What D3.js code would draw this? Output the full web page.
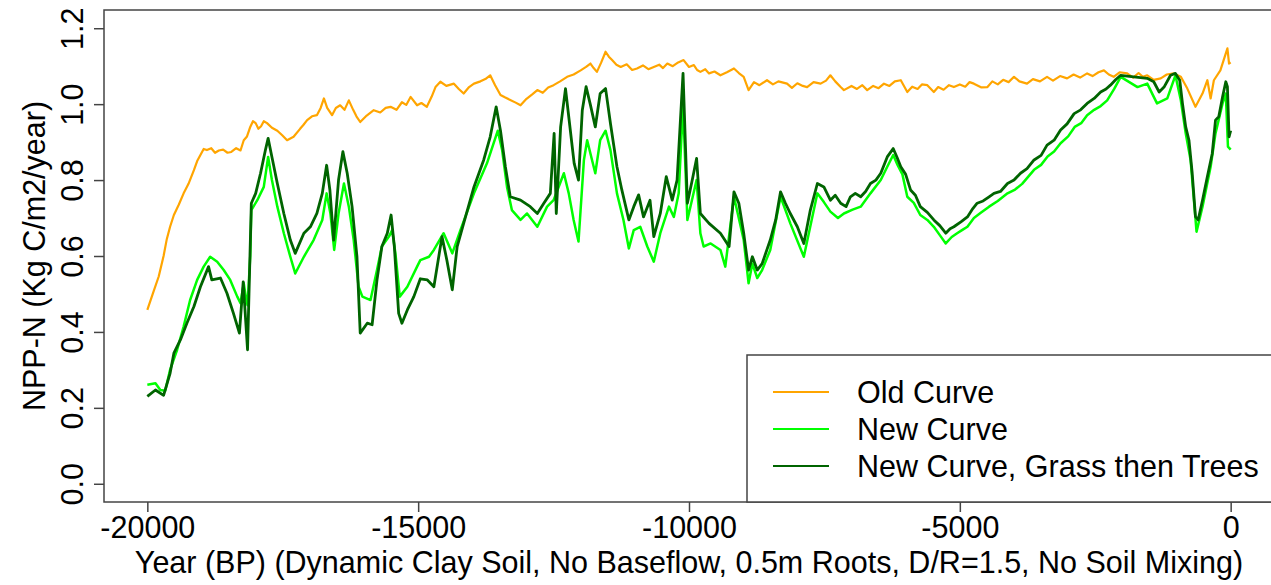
<!DOCTYPE html>
<html>
<head>
<meta charset="utf-8">
<script src="https://cdnjs.cloudflare.com/ajax/libs/d3/7.8.5/d3.min.js"></script>
<style>
  body { margin: 0; background: #fff; }
  text { font-family: "Liberation Sans", Arial, sans-serif; fill: #000; }
</style>
</head>
<body>
<div class="plot-item"></div>
<script>
// values
var oldYears = [
  -20000,-19900,-19790,-19700,-19640,-19580,-19510,-19420,-19330,-19240,
  -19140,-19080,-19020,-18960,-18900,-18820,-18750,-18680,-18600,-18520,
  -18450,-18360,-18280,-18220,-18160,-18100,-18050,-18000,-17950,-17900,
  -17850,-17790,-17700,-17600,-17510,-17420,-17300,-17180,-17120,-17050,
  -16960,-16870,-16800,-16740,-16680,-16590,-16520,-16440,-16360,-16280,
  -16200,-16140,-16070,-15950,-15820,-15700,-15600,-15510,-15400,-15300,
  -15220,-15140,-15020,-14940,-14840,-14750,-14680,-14590,-14480,-14340,
  -14250,-14160,-14060,-13970,-13850,-13760,-13670,-13580,-13480,-13400,
  -13300,-13200,-13110,-13000,-12900,-12800,-12700,-12600,-12500,-12380,
  -12250,-12130,-12000,-11900,-11820,-11760,-11700,-11620,-11540,-11480,
  -11420,-11340,-11260,-11150,-11050,-10960,-10850,-10750,-10650,-10550,
  -10480,-10400,-10300,-10200,-10100,-10000,-9910,-9850,-9790,-9700,
  -9630,-9530,-9420,-9300,-9170,-9080,-8990,-8900,-8800,-8700,
  -8560,-8450,-8350,-8190,-8100,-8000,-7900,-7820,-7700,-7570,
  -7470,-7390,-7300,-7200,-7140,-7000,-6900,-6800,-6710,-6600,
  -6500,-6400,-6300,-6200,-6090,-5970,-5880,-5780,-5700,-5600,
  -5480,-5400,-5300,-5200,-5110,-5000,-4900,-4820,-4740,-4600,
  -4490,-4400,-4300,-4200,-4100,-4000,-3900,-3760,-3650,-3520,
  -3390,-3280,-3150,-3020,-2900,-2780,-2650,-2550,-2440,-2340,
  -2250,-2160,-2050,-1910,-1800,-1700,-1620,-1540,-1420,-1290,
  -1180,-1050,-920,-800,-650,-520,-430,-370,-310,-190,
  -60,-30,0];
var oldNpp = [
  0.458,0.500,0.546,0.600,0.645,0.677,0.708,0.735,0.765,0.790,
  0.826,0.850,0.866,0.882,0.879,0.884,0.872,0.878,0.880,0.872,
  0.874,0.884,0.878,0.905,0.915,0.940,0.955,0.950,0.935,0.942,
  0.955,0.950,0.938,0.930,0.918,0.905,0.914,0.935,0.945,0.958,
  0.968,0.971,0.990,1.015,0.990,0.971,0.990,0.997,0.985,1.010,
  0.985,0.968,0.953,0.970,0.984,0.978,0.990,0.993,0.985,1.005,
  0.998,1.019,0.997,1.003,0.993,1.020,1.045,1.059,1.048,1.054,
  1.040,1.028,1.045,1.054,1.060,1.066,1.076,1.050,1.024,1.018,
  1.011,1.004,0.997,1.014,1.025,1.037,1.030,1.044,1.050,1.060,
  1.072,1.078,1.089,1.098,1.107,1.095,1.085,1.110,1.138,1.125,
  1.116,1.104,1.098,1.105,1.090,1.094,1.102,1.092,1.098,1.104,
  1.095,1.107,1.100,1.110,1.116,1.098,1.103,1.090,1.085,1.092,
  1.081,1.086,1.076,1.084,1.094,1.082,1.072,1.037,1.058,1.050,
  1.063,1.052,1.060,1.054,1.043,1.055,1.048,1.045,1.058,1.054,
  1.062,1.076,1.060,1.045,1.037,1.048,1.040,1.050,1.037,1.048,
  1.042,1.054,1.048,1.060,1.063,1.032,1.046,1.040,1.052,1.050,
  1.032,1.045,1.038,1.050,1.045,1.052,1.046,1.058,1.054,1.044,
  1.045,1.060,1.052,1.064,1.058,1.072,1.060,1.054,1.066,1.060,
  1.072,1.062,1.074,1.068,1.078,1.070,1.081,1.074,1.084,1.089,
  1.078,1.072,1.084,1.081,1.070,1.082,1.072,1.076,1.064,1.068,
  1.078,1.081,1.072,1.041,0.993,1.028,1.063,1.015,1.063,1.089,
  1.147,1.107,1.110];

var newYears = [
  -20000,-19850,-19760,-19670,-19580,-19450,-19330,-19210,-19080,-18960,
  -18840,-18710,-18590,-18470,-18340,-18280,-18220,-18180,-18150,-18100,
  -18080,-17970,-17850,-17770,-17700,-17600,-17480,-17360,-17270,-17110,
  -16930,-16770,-16690,-16620,-16550,-16470,-16370,-16280,-16190,-16100,
  -16030,-15880,-15760,-15670,-15540,-15480,-15420,-15340,-15200,-15020,
  -14960,-14800,-14710,-14530,-14370,-14220,-13970,-13730,-13530,-13450,
  -13360,-13270,-13110,-12990,-12800,-12620,-12500,-12310,-12220,-12130,
  -12040,-11940,-11880,-11820,-11730,-11640,-11540,-11450,-11330,-11210,
  -11110,-11020,-10900,-10770,-10650,-10530,-10370,-10280,-10190,-10110,
  -10030,-9860,-9790,-9730,-9600,-9420,-9330,-9170,-8990,-8900,
  -8830,-8740,-8650,-8500,-8310,-8130,-7880,-7630,-7510,-7390,
  -7250,-7140,-6980,-6830,-6650,-6460,-6340,-6230,-6150,-6060,
  -5970,-5850,-5730,-5600,-5480,-5370,-5260,-5150,-5050,-4960,
  -4860,-4740,-4620,-4460,-4300,-4120,-3980,-3850,-3630,-3500,
  -3380,-3260,-3140,-3000,-2880,-2760,-2650,-2520,-2400,-2280,
  -2150,-2030,-1720,-1540,-1360,-1170,-1020,-920,-830,-740,
  -630,-520,-370,-280,-150,-90,-50,0];
var newNpp = [
  0.261,0.265,0.247,0.245,0.300,0.353,0.414,0.484,0.537,0.572,
  0.598,0.585,0.563,0.537,0.493,0.476,0.528,0.490,0.470,0.600,
  0.721,0.747,0.782,0.861,0.800,0.730,0.660,0.598,0.554,0.598,
  0.642,0.695,0.765,0.712,0.616,0.712,0.791,0.730,0.642,0.519,
  0.493,0.484,0.563,0.625,0.651,0.668,0.607,0.493,0.519,0.572,
  0.589,0.598,0.616,0.660,0.607,0.668,0.765,0.844,0.930,0.879,
  0.782,0.721,0.695,0.712,0.677,0.730,0.747,0.818,0.765,0.695,
  0.638,0.853,0.905,0.870,0.818,0.905,0.930,0.879,0.765,0.695,
  0.620,0.668,0.677,0.625,0.585,0.660,0.730,0.703,0.765,1.000,
  0.695,0.800,0.660,0.625,0.633,0.616,0.572,0.756,0.642,0.528,
  0.580,0.542,0.563,0.616,0.756,0.686,0.598,0.765,0.742,0.717,
  0.700,0.712,0.722,0.730,0.765,0.800,0.835,0.866,0.840,0.815,
  0.756,0.740,0.708,0.695,0.677,0.655,0.633,0.650,0.660,0.668,
  0.677,0.700,0.713,0.730,0.745,0.765,0.775,0.790,0.827,0.840,
  0.862,0.875,0.897,0.915,0.940,0.950,0.971,0.985,0.995,1.010,
  1.040,1.072,1.045,1.054,1.002,1.015,1.076,1.010,0.923,0.853,
  0.664,0.730,0.835,0.923,1.002,1.028,0.888,0.880];

var treeYears = [
  -20000,-19850,-19700,-19580,-19510,-19390,-19270,-19140,-19020,-18870,
  -18810,-18650,-18530,-18410,-18300,-18230,-18150,-18080,-18000,-17910,
  -17820,-17770,-17700,-17600,-17480,-17360,-17270,-17110,-16990,-16870,
  -16770,-16690,-16630,-16560,-16470,-16390,-16310,-16220,-16130,-16070,
  -15940,-15850,-15760,-15670,-15570,-15500,-15440,-15360,-15300,-15200,
  -15080,-14960,-14830,-14710,-14560,-14470,-14370,-14280,-14160,-13970,
  -13790,-13670,-13560,-13480,-13390,-13300,-13110,-12930,-12800,-12680,
  -12560,-12490,-12450,-12370,-12280,-12190,-12120,-12040,-11970,-11900,
  -11820,-11730,-11640,-11540,-11450,-11330,-11240,-11110,-11020,-10930,
  -10840,-10720,-10650,-10530,-10420,-10310,-10220,-10110,-10030,-9940,
  -9860,-9790,-9630,-9420,-9260,-9170,-9080,-8990,-8900,-8830,
  -8740,-8650,-8500,-8400,-8310,-8220,-8130,-8000,-7880,-7760,
  -7630,-7510,-7390,-7300,-7200,-7100,-7020,-6930,-6830,-6740,
  -6650,-6550,-6460,-6340,-6230,-6160,-6090,-6000,-5910,-5820,
  -5730,-5600,-5480,-5370,-5260,-5180,-5110,-4980,-4860,-4760,
  -4680,-4570,-4460,-4370,-4250,-4120,-4000,-3880,-3760,-3630,
  -3500,-3390,-3260,-3140,-3020,-2890,-2770,-2650,-2520,-2400,
  -2300,-2220,-2120,-2030,-1790,-1540,-1420,-1320,-1230,-1110,
  -1020,-940,-890,-830,-770,-710,-650,-600,-520,-430,
  -340,-280,-220,-150,-90,-60,-30,0];
var treeNpp = [
  0.230,0.247,0.233,0.291,0.344,0.379,0.423,0.467,0.519,0.572,
  0.537,0.542,0.502,0.449,0.397,0.532,0.353,0.739,0.765,0.818,
  0.879,0.910,0.861,0.791,0.712,0.642,0.607,0.660,0.677,0.712,
  0.765,0.839,0.774,0.642,0.800,0.875,0.818,0.730,0.598,0.397,
  0.423,0.419,0.537,0.625,0.660,0.708,0.625,0.449,0.423,0.458,
  0.493,0.540,0.537,0.519,0.651,0.589,0.511,0.625,0.686,0.782,
  0.853,0.914,0.993,0.930,0.835,0.756,0.747,0.730,0.712,0.739,
  0.765,0.923,0.712,0.940,1.041,0.930,0.844,0.800,0.984,1.046,
  0.998,0.940,1.028,1.041,0.949,0.835,0.774,0.695,0.730,0.761,
  0.703,0.747,0.651,0.712,0.809,0.747,0.800,1.081,0.739,0.800,
  0.857,0.712,0.686,0.660,0.625,0.769,0.739,0.660,0.563,0.598,
  0.563,0.580,0.642,0.695,0.769,0.739,0.712,0.677,0.633,0.721,
  0.791,0.782,0.747,0.760,0.739,0.730,0.756,0.765,0.756,0.770,
  0.791,0.800,0.818,0.861,0.883,0.860,0.835,0.815,0.774,0.760,
  0.730,0.715,0.695,0.680,0.660,0.672,0.677,0.690,0.703,0.725,
  0.739,0.745,0.756,0.765,0.770,0.791,0.800,0.818,0.830,0.853,
  0.865,0.892,0.905,0.932,0.948,0.975,0.985,1.002,1.015,1.032,
  1.040,1.050,1.065,1.076,1.072,1.068,1.059,1.032,1.045,1.076,
  1.081,1.063,1.002,0.940,0.905,0.818,0.704,0.695,0.747,0.809,
  0.870,0.958,0.967,1.019,1.059,1.046,0.914,0.930];

var xTicks = [-20000, -15000, -10000, -5000, 0];
var yTicks = [0.0, 0.2, 0.4, 0.6, 0.8, 1.0, 1.2];
var seriesNames = ["Old Curve", "New Curve", "New Curve, Grass then Trees"];
var seriesColors = ["#ffa500", "#00ff00", "#006400"];

var w = 1271;
var h = 585;
var margin = {top: 10, left: 104};
var width = 1170;
var height = 492;
var fontSize = "30.5px";

var svg = d3.select(".plot-item").append("svg")
      .attr("width", w)
      .attr("height", h);
var chart = svg.append("g")
      .attr("transform", "translate(" + margin.left + "," + margin.top + ")");

var x = d3.scaleLinear()
      .domain([-20800, 800])
      .range([0, width]);
var y = d3.scaleLinear()
      .domain([-0.048, 1.248])
      .range([height, 0]);

var line = d3.line()
      .x(function(d){ return x(d[0]); })
      .y(function(d){ return y(d[1]); });

function pairs(xs, ys){
  return xs.map(function(v, i){ return [v, ys[i]]; });
}

var series = [
  pairs(oldYears, oldNpp),
  pairs(newYears, newNpp),
  pairs(treeYears, treeNpp)
];
var widths = [2.2, 2.5, 2.8];

series.forEach(function(data, i){
  chart.append("path")
    .datum(data)
    .attr("fill", "none")
    .attr("stroke", seriesColors[i])
    .attr("stroke-width", widths[i])
    .attr("stroke-linejoin", "round")
    .attr("d", line);
});

// axes (R style: plain hyphen for negatives)
var xAxis = chart.append("g")
      .attr("transform", "translate(0," + height + ")")
      .call(d3.axisBottom(x).tickValues(xTicks).tickSize(10).tickFormat(function(d){ return String(d); }));
xAxis.selectAll("text")
  .attr("y", 36)
  .attr("dy", null)
  .style("font-size", fontSize);

var yAxis = chart.append("g")
      .call(d3.axisLeft(y).tickValues(yTicks).tickSize(10).tickFormat(d3.format(".1f")));
yAxis.selectAll("text")
  .attr("x", null)
  .attr("dy", null)
  .attr("text-anchor", "middle")
  .attr("transform", "translate(-21,0) rotate(-90)")
  .style("font-size", fontSize);

svg.selectAll(".domain").remove();
svg.selectAll(".tick line")
  .attr("stroke", "#444")
  .attr("stroke-width", 1.5);

// plot box
chart.append("rect")
  .attr("width", width)
  .attr("height", height)
  .attr("fill", "none")
  .attr("stroke", "#444")
  .attr("stroke-width", 1.5);

// axis titles
chart.append("text")
  .attr("x", width / 2)
  .attr("y", 563)
  .attr("text-anchor", "middle")
  .style("font-size", fontSize)
  .text("Year (BP) (Dynamic Clay Soil, No Baseflow, 0.5m Roots, D/R=1.5, No Soil Mixing)");
chart.append("text")
  .attr("transform", "translate(-59," + height / 2 + ") rotate(-90)")
  .attr("text-anchor", "middle")
  .style("font-size", fontSize)
  .text("NPP-N (Kg C/m2/year)");

// legend
var legend = chart.append("g")
      .attr("transform", "translate(643,345)");
legend.append("rect")
  .attr("width", 540)
  .attr("height", height - 345)
  .attr("fill", "#fff")
  .attr("stroke", "#444")
  .attr("stroke-width", 1.5);
seriesNames.forEach(function(name, i){
  var ly = 37 + i * 37;
  legend.append("line")
    .attr("x1", 26).attr("x2", 82)
    .attr("y1", ly).attr("y2", ly)
    .attr("stroke", seriesColors[i])
    .attr("stroke-width", 2);
  legend.append("text")
    .attr("x", 110)
    .attr("y", ly)
    .attr("dy", "0.35em")
    .style("font-size", fontSize)
    .text(name);
});
</script>
</body>
</html>
